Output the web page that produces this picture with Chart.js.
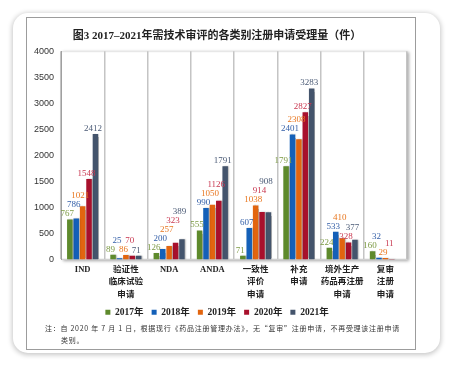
<!DOCTYPE html>
<html><head><meta charset="utf-8">
<script src="https://cdn.jsdelivr.net/npm/chart.js@4/dist/chart.umd.min.js"></script>
<style>
html,body{margin:0;padding:0;background:#fff;width:451px;height:367px;overflow:hidden;}
.card{position:absolute;left:13px;top:13px;width:427px;height:340px;border-radius:15px;background:#fff;box-shadow:0 1px 5px 1px rgba(0,0,0,0.22);}
.frame{position:absolute;left:26px;top:17px;width:388px;height:331px;border:1.5px solid #9c9c9c;background:#fff;}
#wrap{position:absolute;left:0;top:0;width:388px;height:309px;}
.note{position:absolute;left:18px;top:304px;font-family:"Noto Sans CJK SC",sans-serif;font-size:7px;line-height:12px;color:#333;white-space:nowrap;}
.note div{display:block;}
.note span{display:inline-block;}
.note .l2{padding-left:16px;}
</style></head>
<body>
<div class="card"></div>
<div class="frame">
 <div id="wrap"><canvas id="c"></canvas></div>
 <div class="note"><div><span id="n1">注：自 2020 年 7 月 1 日，根据现行《药品注册管理办法》，无“复审”注册申请，不再受理该注册申请</span></div><div class="l2"><span id="n2">类别。</span></div></div>
</div>
<script>
const categories = ["IND", ["验证性","临床试验","申请"], "NDA", "ANDA", ["一致性","评价","申请"], ["补充","申请"], ["境外生产","药品再注册","申请"], ["复审","注册","申请"]];
const seriesNames = ["2017年","2018年","2019年","2020年","2021年"];
const v2017 = [767, 89, 126, 555, 71, 1791, 224, 160];
const v2018 = [786, 25, 200, 990, 607, 2401, 533, 32];
const v2019 = [1021, 86, 257, 1050, 1038, 2308, 410, 29];
const v2020 = [1548, 70, 323, 1126, 914, 2827, 328, 11];
const v2021 = [2412, 71, 389, 1791, 908, 3283, 377, null];
const yTicks = [0,500,1000,1500,2000,2500,3000,3500,4000];

const barColors = ["#5e8a2c","#1460b8","#e2650f","#a8102c","#44546c"];
const labelColors = ["#7d9a45","#3560a8","#e8761e","#c83850","#4a5a75"];
const values = [v2017,v2018,v2019,v2020,v2021];

// fit note line width
(function(){
  const n1=document.getElementById('n1');
  const chars=n1.textContent.length;
  const w=n1.getBoundingClientRect().width;
  const ls=(355-w)/chars;
  n1.style.letterSpacing=ls+'px';
  document.getElementById('n2').style.letterSpacing=ls+'px';
})();

const serif = '"Liberation Serif","Noto Sans CJK SC",serif';

const labelPlugin = {
  id:'labels',
  afterDatasetsDraw(chart){
    const ctx = chart.ctx;
    ctx.save();
    ctx.font = '9px ' + serif;
    ctx.textAlign = 'center';
    ctx.textBaseline = 'bottom';
    const n = categories.length;
    for(let i=0;i<n;i++){
      const placed=[];
      chart.data.datasets.forEach((ds,di)=>{
        const v = ds.data[i];
        if(v===null||v===undefined) return;
        const el = chart.getDatasetMeta(di).data[i];
        const txt = String(v);
        const w = ctx.measureText(txt).width;
        const cx = el.x - 2.5;
        let bottom = el.y - 2;
        const x0 = cx - w/2, x1 = cx + w/2;
        let moved=true;
        while(moved){
          moved=false;
          for(const p of placed){
            if(x0 < p.x1 && x1 > p.x0 && bottom > p.top && bottom - 9 < p.bottom){
              bottom = p.top; moved=true;
            }
          }
        }
        placed.push({x0,x1,top:bottom-9,bottom});
        ctx.fillStyle = labelColors[di];
        ctx.fillText(txt, cx, bottom+1);
      });
    }
    ctx.restore();
  }
};

const shadowPlugin = {
  id:'shadow',
  beforeDraw(chart){
    const {ctx, chartArea:a} = chart;
    ctx.save();
    ctx.fillStyle='#fff';
    ctx.shadowColor='rgba(0,0,0,0.35)';
    ctx.shadowBlur=3;
    ctx.shadowOffsetX=2;
    ctx.shadowOffsetY=1;
    ctx.fillRect(a.left,a.top,a.right-a.left,a.bottom-a.top);
    ctx.restore();
    ctx.save();
    ctx.strokeStyle='#e4e4e4';
    ctx.lineWidth=1;
    ctx.strokeRect(a.left+0.5,a.top+0.5,a.right-a.left-1,a.bottom-a.top-1);
    ctx.restore();
  },
  beforeDatasetsDraw(chart){
    const ctx=chart.ctx;
    ctx.save();
    ctx.shadowColor='rgba(0,0,0,0.3)';
    ctx.shadowBlur=1.5;
    ctx.shadowOffsetX=1;
    ctx.shadowOffsetY=0;
  },
  afterDatasetsDraw(chart){ chart.ctx.restore(); }
};

new Chart(document.getElementById('c'),{
  type:'bar',
  data:{
    labels:categories,
    datasets: seriesNames.map((n,i)=>({label:n,data:values[i],backgroundColor:barColors[i],borderWidth:0}))
  },
  options:{
    responsive:true, maintainAspectRatio:false, animation:false,
    devicePixelRatio:1,
    layout:{padding:{left:0,right:8,top:0,bottom:0}},
    datasets:{bar:{categoryPercentage:0.74,barPercentage:0.86}},
    plugins:{
      title:{display:true,text:'图3 2017–2021年需技术审评的各类别注册申请受理量（件）',
        font:{family:serif,size:11,weight:'bold'},color:'#222',padding:{top:12,bottom:8}},
      legend:{position:'bottom',
        labels:{boxWidth:5,boxHeight:5,padding:8,color:'#222',font:{family:serif,size:9.5,weight:'bold'}}},
      tooltip:{enabled:false}
    },
    scales:{
      x:{
        grid:{display:true,offset:true,color:'#c4c4c4',lineWidth:1.5,drawTicks:false},
        border:{display:true,color:'#d0d0d0'},
        ticks:{color:'#222',font:{family:serif,size:8.5,weight:'bold',lineHeight:1.45},padding:4,maxRotation:0,autoSkip:false},
        afterFit(s){ s.height = 40; }
      },
      y:{
        min:0,max:4000,
        afterBuildTicks(s){ s.ticks = yTicks.map(v=>({value:v})); },
        grid:{display:false,drawTicks:true,tickLength:4},
        border:{display:true,color:'#a0a0a0'},
        ticks:{color:'#333',font:{family:'"Liberation Sans",sans-serif',size:9},padding:3,callback:(v)=>String(v)},
        afterFit(s){ s.width = 34; }
      }
    }
  },
  plugins:[shadowPlugin,labelPlugin]
});
</script>
</body></html>
